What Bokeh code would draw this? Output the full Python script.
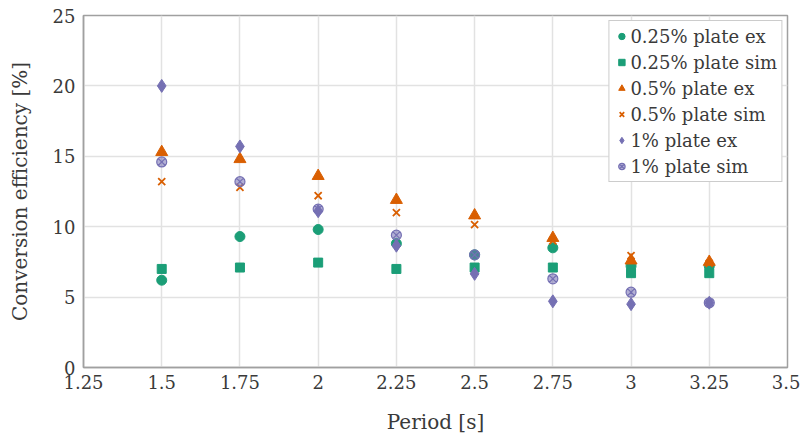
from bokeh.plotting import figure
from bokeh.models import FixedTicker, Range1d, Legend, LegendItem
from bokeh.embed import file_html
from bokeh.resources import INLINE

periods = [1.5, 1.75, 2.0, 2.25, 2.5, 2.75, 3.0, 3.25]
p025_ex = [6.2, 9.3, 9.8, 8.8, 8.0, 8.5, 7.2, 7.2]
p025_sim = [7.0, 7.1, 7.45, 7.0, 7.1, 7.1, 6.7, 6.7]
p05_ex = [15.3, 14.8, 13.6, 11.9, 10.8, 9.2, 7.6, 7.5]
p05_sim = [13.2, 12.8, 12.2, 11.0, 10.15, 9.0, 7.95, 7.4]
p1_ex = [20.0, 15.7, 11.1, 8.65, 6.65, 4.7, 4.5, 4.6]
p1_sim = [14.6, 13.2, 11.25, 9.4, 8.0, 6.3, 5.35, 4.6]

x_ticks = [1.25, 1.5, 1.75, 2.0, 2.25, 2.5, 2.75, 3.0, 3.25, 3.5]
x_tick_labels = ["1.25", "1.5", "1.75", "2", "2.25", "2.5", "2.75", "3", "3.25", "3.5"]
y_ticks = [0, 5, 10, 15, 20, 25]
y_tick_labels = ["0", "5", "10", "15", "20", "25"]

labels = ["0.25% plate ex", "0.25% plate sim", "0.5% plate ex",
          "0.5% plate sim", "1% plate ex", "1% plate sim"]

GREEN = "#1b9e77"
ORANGE = "#d95f02"
PURPLE = "#7570b3"
FONT = "'DejaVu Serif', serif"
TXT = "#3a3a3a"

p = figure(width=800, height=436, output_backend="svg", toolbar_location=None,
           x_range=Range1d(1.25, 3.5), y_range=Range1d(0, 25),
           min_border_left=83, min_border_right=13, min_border_top=15,
           min_border_bottom=69)

r1 = p.scatter(periods, p025_ex, marker="circle", size=10, fill_color=GREEN, line_color=GREEN)
r2 = p.scatter(periods, p025_sim, marker="square", size=9, fill_color=GREEN, line_color=GREEN)
r3 = p.scatter(periods, p05_ex, marker="triangle", size=12, fill_color=ORANGE, line_color=ORANGE)
r4 = p.scatter(periods, p05_sim, marker="x", size=10, line_color=ORANGE, line_width=1.8)
r5 = p.scatter(periods, p1_ex, marker="diamond", size=13, fill_color=PURPLE, line_color=PURPLE)
r6 = p.scatter(periods, p1_sim, marker="circle_x", size=10, fill_color=PURPLE, fill_alpha=0.55,
               line_color=PURPLE, line_width=1.2)

legend = Legend(items=[LegendItem(label=l, renderers=[r]) for l, r in
                       zip(labels, [r1, r2, r3, r4, r5, r6])],
                location="top_right")
legend.label_text_font = FONT
legend.label_text_font_size = "18px"
legend.label_text_color = TXT
legend.label_height = 22
legend.glyph_height = 22
legend.glyph_width = 16
legend.label_standoff = 1
legend.spacing = 4
legend.padding = 4
legend.margin = 5
legend.border_line_color = "#9a9a9a"
legend.border_line_width = 1
legend.background_fill_alpha = 1
p.add_layout(legend)

p.xaxis.ticker = FixedTicker(ticks=x_ticks)
p.yaxis.ticker = FixedTicker(ticks=y_ticks)
p.xaxis.major_label_overrides = dict(zip(x_ticks, x_tick_labels))
p.yaxis.major_label_overrides = dict(zip(y_ticks, y_tick_labels))

p.xaxis.axis_label = "Period [s]"
p.yaxis.axis_label = "Conversion efficiency [%]"
for ax in (p.xaxis[0], p.yaxis[0]):
    ax.axis_label_text_font = FONT
    ax.axis_label_text_font_size = "20px"
    ax.axis_label_text_font_style = "normal"
    ax.axis_label_text_color = TXT
    ax.major_label_text_font = FONT
    ax.major_label_text_font_size = "18px"
    ax.major_label_text_color = TXT
    ax.axis_line_color = "#a0a0a0"
    ax.axis_line_width = 1.5
    ax.major_tick_in = 0
    ax.major_tick_out = 0
    ax.minor_tick_in = 0
    ax.minor_tick_out = 0
p.xaxis.major_label_standoff = 7
p.yaxis.major_label_standoff = 8
p.xaxis.axis_label_standoff = 18
p.yaxis.axis_label_standoff = 18

p.grid.grid_line_color = "#e2e2e2"
p.grid.grid_line_width = 1.5
p.outline_line_color = "#a0a0a0"
p.outline_line_width = 1.5
p.background_fill_color = "white"
p.border_fill_color = "white"

open("out.html", "w").write(file_html(p, INLINE))
